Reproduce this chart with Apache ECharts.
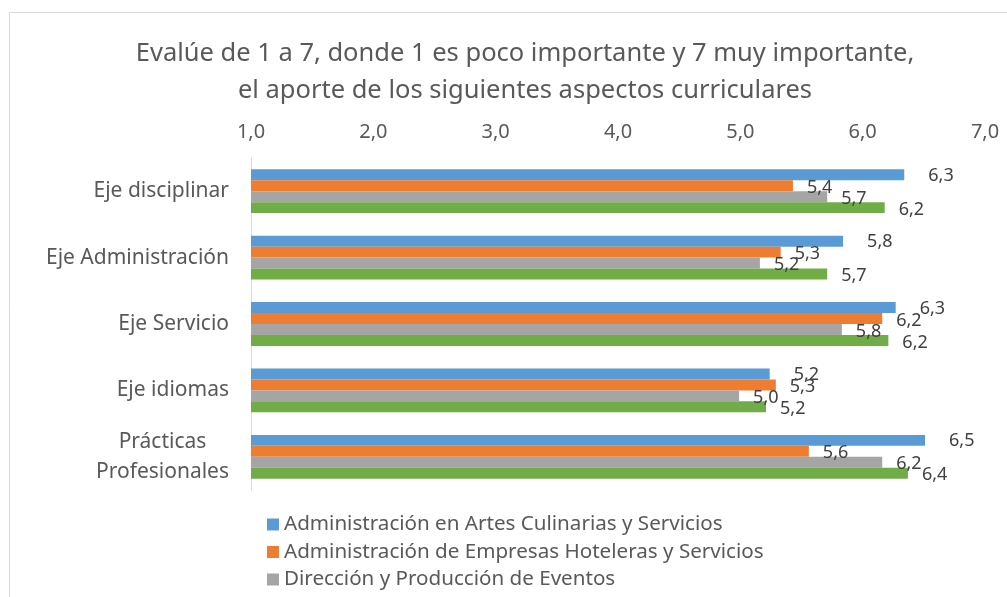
<!DOCTYPE html>
<html>
<head>
<meta charset="utf-8">
<script src="https://cdn.jsdelivr.net/npm/echarts@6/dist/echarts.min.js"></script>
<style>
  html, body { margin: 0; padding: 0; background: #fff; }
  #chart { width: 1007px; height: 597px; }
</style>
</head>
<body>
<div id="chart"></div>
<script>
const categories = [
  'Eje disciplinar',
  'Eje Administración',
  'Eje Servicio',
  'Eje idiomas',
  'Prácticas\nProfesionales',
];

const seriesNames = [
  'Administración en Artes Culinarias y Servicios',
  'Administración de Empresas Hoteleras y Servicios',
  'Dirección y Producción de Eventos',
  'Gestión Turística',
];

const culinarias = [6.34, 5.84, 6.27, 5.24, 6.51];
const hoteleras = [5.43, 5.33, 6.16, 5.29, 5.56];
const eventos = [5.71, 5.16, 5.83, 4.99, 6.16];
const turismo = [6.18, 5.71, 6.21, 5.21, 6.37];

const xTicks = [1, 2, 3, 4, 5, 6, 7];

const colors = ['#5b9bd5', '#ed7d31', '#a5a5a5', '#70ad47'];
const textColor = '#595959';
const font = 'Noto Sans';
const catSize = 21;

const fmt = v => v.toFixed(1).replace('.', ',');

// multi-line category labels are centred line by line, like the original
const measure = text => {
  const ctx = document.createElement('canvas').getContext('2d');
  ctx.font = catSize + 'px "' + font + '"';
  return Math.ceil(ctx.measureText(text).width);
};

const makeSeries = (name, data, i) => ({
  name,
  type: 'bar',
  data,
  barGap: '0%',
  barCategoryGap: '34%',
  itemStyle: { color: colors[i] },
  label: {
    show: true,
    position: 'right',
    distance: i === 0 ? 24 : 14,
    offset: [0, i === 0 ? 1 : 2],
    color: '#404040',
    fontFamily: font,
    fontSize: 18,
    formatter: p => fmt(p.value),
  },
});

const chart = echarts.init(document.getElementById('chart'));
chart.setOption({
  animation: false,
  color: colors,
  title: {
    text: 'Evalúe de 1 a 7, donde 1 es poco importante y 7 muy importante,\nel aporte de los siguientes aspectos curriculares',
    left: 520,
    textAlign: 'center',
    top: 30,
    textStyle: {
      color: textColor,
      fontFamily: font,
      fontSize: 25.5,
      fontWeight: 'normal',
      lineHeight: 37,
    },
  },
  legend: {
    orient: 'vertical',
    left: 262,
    top: 509,
    itemWidth: 12,
    itemHeight: 12,
    itemGap: 6.5,
    icon: 'rect',
    data: seriesNames.slice(0, 3),
    textStyle: { color: textColor, fontFamily: font, fontSize: 20.6, lineHeight: 20 },
  },
  grid: {
    left: 251,
    right: 22,
    top: 158,
    bottom: 107,
    containLabel: false,
  },
  xAxis: {
    type: 'value',
    position: 'top',
    min: xTicks[0],
    max: xTicks[xTicks.length - 1],
    interval: 1,
    axisLine: { show: false },
    axisTick: { show: false },
    splitLine: { show: false },
    axisLabel: {
      color: textColor,
      fontFamily: font,
      fontSize: 20,
      margin: 16,
      formatter: v => fmt(v),
    },
  },
  yAxis: {
    type: 'category',
    inverse: true,
    data: categories,
    axisLine: { show: true, lineStyle: { color: '#d9d9d9', width: 1 } },
    axisTick: { show: false },
    axisLabel: {
      color: textColor,
      fontFamily: font,
      fontSize: catSize,
      margin: 22,
      align: 'right',
      formatter: v => {
        const lines = v.split('\n');
        if (lines.length === 1) return v;
        return lines.map(l => '{c|' + l + '}').join('\n');
      },
      rich: {
        c: {
          width: measure('Profesionales'),
          align: 'center',
          color: textColor,
          fontFamily: font,
          fontSize: catSize,
          lineHeight: 30,
        },
      },
    },
  },
  graphic: [
    {
      type: 'rect',
      shape: { x: 9.5, y: 12.5, width: 1020, height: 620 },
      style: { fill: 'none', stroke: '#d9d9d9', lineWidth: 1 },
      silent: true,
    },
  ],
  series: [
    makeSeries(seriesNames[0], culinarias, 0),
    makeSeries(seriesNames[1], hoteleras, 1),
    makeSeries(seriesNames[2], eventos, 2),
    makeSeries(seriesNames[3], turismo, 3),
  ],
});
</script>
</body>
</html>
